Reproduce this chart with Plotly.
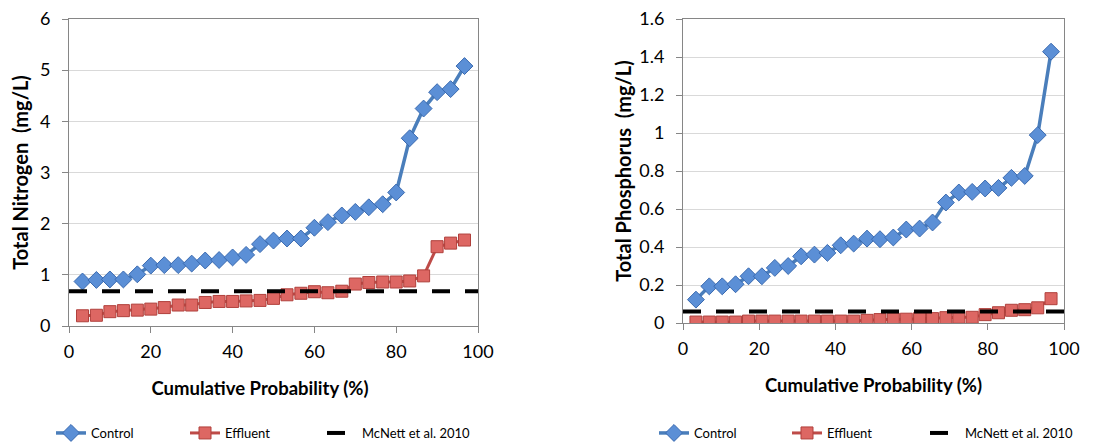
import plotly.graph_objects as go

# ---------------- data ----------------
prob_tn = [3.3, 6.7, 10.0, 13.3, 16.7, 20.0, 23.3, 26.7, 30.0, 33.3, 36.7, 40.0, 43.3, 46.7,
           50.0, 53.3, 56.7, 60.0, 63.3, 66.7, 70.0, 73.3, 76.7, 80.0, 83.3, 86.7, 90.0, 93.3, 96.7]
tn_control = [0.87, 0.90, 0.91, 0.91, 1.01, 1.18, 1.19, 1.19, 1.22, 1.28, 1.29, 1.34, 1.39, 1.60,
              1.67, 1.71, 1.71, 1.92, 2.03, 2.16, 2.23, 2.32, 2.38, 2.61, 3.67, 4.25, 4.57, 4.63, 5.08]
tn_effluent = [0.20, 0.21, 0.28, 0.30, 0.31, 0.33, 0.36, 0.41, 0.41, 0.46, 0.48, 0.48, 0.49, 0.50,
               0.54, 0.61, 0.64, 0.67, 0.65, 0.68, 0.82, 0.85, 0.86, 0.86, 0.88, 0.98, 1.55, 1.62, 1.68]
tn_mcnett = 0.68

prob_tp = [3.4, 6.9, 10.3, 13.8, 17.2, 20.7, 24.1, 27.6, 31.0, 34.5, 37.9, 41.4, 44.8, 48.3,
           51.7, 55.2, 58.6, 62.1, 65.5, 69.0, 72.4, 75.9, 79.3, 82.8, 86.2, 89.7, 93.1, 96.6]
tp_control = [0.123, 0.193, 0.193, 0.204, 0.246, 0.246, 0.290, 0.300, 0.351, 0.360, 0.369, 0.409,
              0.418, 0.444, 0.441, 0.450, 0.492, 0.497, 0.529, 0.634, 0.687, 0.690, 0.708, 0.711,
              0.764, 0.774, 0.989, 1.428]
tp_effluent = [0.005, 0.005, 0.005, 0.005, 0.010, 0.010, 0.010, 0.010, 0.010, 0.010, 0.010, 0.010,
               0.010, 0.014, 0.018, 0.020, 0.020, 0.023, 0.023, 0.028, 0.030, 0.030, 0.044, 0.054,
               0.067, 0.070, 0.080, 0.128]
tp_mcnett = 0.061

series_names = ["Control", "Effluent", "McNett et al. 2010"]
x_title = "Cumulative Probability (%)"
tn_title = "Total Nitrogen\u00a0\u00a0(mg/L)"
tp_title = "Total Phosphorus\u00a0\u00a0(mg/L)"
x_range = [0, 100]
x_ticks = [0, 20, 40, 60, 80, 100]

# ---------------- styles ----------------
FONT = "Lato"
blue_line, blue_fill, blue_edge = "#4a7ebb", "#5b8fd6", "#3a6ab0"
red_line, red_fill, red_edge = "#be4b48", "#dd6763", "#b0403c"
axis_col = "#868686"
grid_col = "#d9d9d9"

# page has an 8px body margin: figure starts at page (8, 8)
OFF = 8
W, H = 1120 - OFF, 440


def xdom(a, b):
    return [(a - OFF) / W, (b - OFF) / W]


def ydom(top, bottom):
    return [(H - (bottom - OFF)) / H, (H - (top - OFF)) / H]


fig = go.Figure()

panels = [
    (prob_tn, tn_control, tn_effluent, tn_mcnett, "x", "y", ["legend", "legend2", "legend3"]),
    (prob_tp, tp_control, tp_effluent, tp_mcnett, "x2", "y2", ["legend4", "legend5", "legend6"]),
]
for xs, ctrl, eff, mc, xa, ya, legs in panels:
    fig.add_trace(go.Scatter(
        x=xs, y=ctrl, mode="lines+markers", name=series_names[0],
        line=dict(color=blue_line, width=3.5),
        marker=dict(symbol="diamond", size=13, color=blue_fill, line=dict(color=blue_edge, width=1)),
        xaxis=xa, yaxis=ya, legend=legs[0]))
    fig.add_trace(go.Scatter(
        x=xs, y=eff, mode="lines+markers", name=series_names[1],
        line=dict(color=red_line, width=3),
        marker=dict(symbol="square", size=12, color=red_fill, line=dict(color=red_edge, width=1)),
        xaxis=xa, yaxis=ya, legend=legs[1]))
    fig.add_trace(go.Scatter(
        x=x_range, y=[mc, mc], mode="lines", name=series_names[2],
        line=dict(color="black", width=4, dash="18px,15px"),
        xaxis=xa, yaxis=ya, legend=legs[2]))

tick_font = dict(family=FONT, size=18, color="black")
xtitle_font = dict(family=FONT, size=18.5, color="black")
ytitle_font = dict(family=FONT, size=20, color="black")

common_x = dict(range=x_range, tickvals=x_ticks, showline=True, linecolor=axis_col, linewidth=1,
                mirror=True, ticks="outside", ticklen=6, tickcolor=axis_col, showgrid=False,
                zeroline=False, tickfont=tick_font, automargin=False, ticklabelstandoff=3,
                ticklabeloverflow="allow")
common_y = dict(showline=True, linecolor=axis_col, linewidth=1, mirror=True, ticks="outside",
                ticklen=6, tickcolor=axis_col, showgrid=True, gridcolor=grid_col, gridwidth=1,
                zeroline=False, tickfont=tick_font, automargin=False, ticklabelstandoff=8,
                ticklabeloverflow="allow")

legend_font = dict(family=FONT, size=13, color="black")
legend_text_x = [91, 225, 362, 694, 827, 965]  # page x where each legend label starts
legend_layout = {}
for i, tx in enumerate(legend_text_x):
    key = "legend" if i == 0 else f"legend{i + 1}"
    legend_layout[key] = dict(orientation="h", x=(tx - 40 - OFF) / W, y=0,
                              xanchor="left", yanchor="bottom", font=legend_font,
                              bgcolor="rgba(0,0,0,0)", itemwidth=30)

# left panel's x title sits ~15px left of the plot centre in the original
pad = "\u00a0" * 6

fig.update_layout(
    width=W, height=H,
    template="none",
    paper_bgcolor="white", plot_bgcolor="white",
    margin=dict(l=0, r=0, t=0, b=0),
    font=dict(family=FONT, color="black"),
    xaxis=dict(domain=xdom(69, 478), anchor="y",
               title=dict(text=f"<b>{x_title}{pad}</b>", font=xtitle_font, standoff=21),
               **common_x),
    yaxis=dict(domain=ydom(19, 326), anchor="x", range=[0, 6], dtick=1,
               title=dict(text=f"<b>{tn_title}</b>", font=ytitle_font, standoff=9),
               **common_y),
    xaxis2=dict(domain=xdom(683, 1064), anchor="y2",
                title=dict(text=f"<b>{x_title}</b>", font=xtitle_font, standoff=21),
                **common_x),
    yaxis2=dict(domain=ydom(19, 323), anchor="x2", range=[0, 1.6], dtick=0.2,
                title=dict(text=f"<b>{tp_title}</b>", font=ytitle_font, standoff=2),
                **common_y),
    showlegend=True,
    **legend_layout,
)

fig.write_html("out.html")
